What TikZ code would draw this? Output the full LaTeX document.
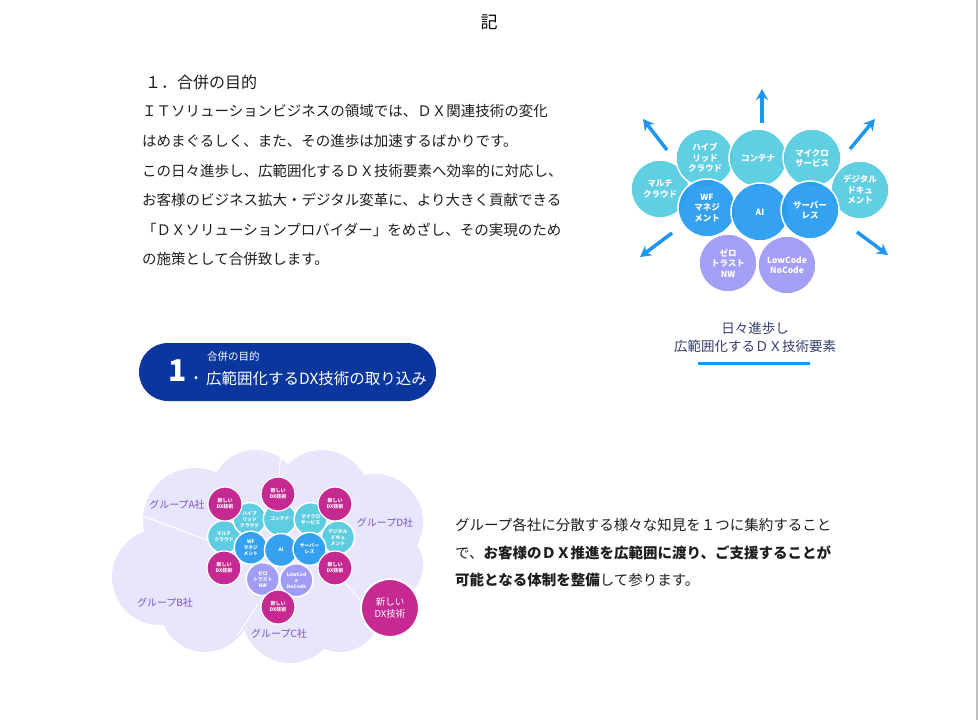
\documentclass[tikz,border=0pt]{standalone}
\usepackage{fontspec}
\setmainfont{Noto Sans CJK JP}
\usetikzlibrary{arrows.meta}

\definecolor{dxteal}{RGB}{84,204,224}
\definecolor{dxblue}{RGB}{38,156,240}
\definecolor{dxlav}{RGB}{156,152,244}
\definecolor{dxmag}{RGB}{198,42,146}
\definecolor{dxcloud}{RGB}{232,230,252}
\definecolor{dxgroup}{RGB}{122,82,190}
\definecolor{dxarrow}{RGB}{30,150,240}
\definecolor{dxnavy}{RGB}{10,54,158}
\definecolor{dxcap}{RGB}{52,62,112}
\definecolor{bodytext}{RGB}{30,30,30}

\tikzset{
  bodyline/.style={anchor=west, inner sep=0pt, text=bodytext, font=\fontsize{14.5}{16}\selectfont},
  elem/.style={circle, draw=white, line width=1.5pt, minimum size=58pt, inner sep=0pt, align=center,
    text=white, font=\bfseries\fontsize{8.5}{10.5}\selectfont, fill opacity=0.93, text opacity=1},
  tealc/.style={elem, fill=dxteal},
  bluec/.style={elem, fill=dxblue},
  lavc/.style={elem, fill=dxlav},
  newdx/.style={circle, draw=white, line width=1.2pt, fill=dxmag, minimum size=34pt, inner sep=0pt,
    align=center, text=white, font=\bfseries\fontsize{5}{6}\selectfont},
  bignew/.style={newdx, minimum size=58pt, line width=2pt, font=\fontsize{9.5}{12.5}\selectfont},
  grouplabel/.style={text=dxgroup, inner sep=0pt, font=\fontsize{10}{12}\selectfont},
  growarrow/.style={-{Stealth[length=11pt,width=12pt]}, line width=3.5pt, dxarrow},
  splitline/.style={white, line width=1pt}
}

\begin{document}
\begin{tikzpicture}[x=1pt,y=-1pt]
\fill[white] (0,0) rectangle (978,720);
\useasboundingbox (0,0) rectangle (978,720);
\draw[black!25, line width=1.2pt] (977,0) -- (977,720);

% heading and purpose text
\node[inner sep=0pt, font=\fontsize{17}{17}\selectfont] (ki) at (489,22) {記};
\node[bodyline, font=\fontsize{16}{18}\selectfont] (h1) at (145,82) {１．合併の目的};
\node[bodyline] (p1) at (142,111) {ＩＴソリューションビジネスの領域では、ＤＸ関連技術の変化};
\node[bodyline] (p2) at (142,141) {はめまぐるしく、また、その進歩は加速するばかりです。};
\node[bodyline] (p3) at (142,171) {この日々進歩し、広範囲化するＤＸ技術要素へ効率的に対応し、};
\node[bodyline] (p4) at (142,200) {お客様のビジネス拡大・デジタル変革に、より大きく貢献できる};
\node[bodyline] (p5) at (142,230) {「ＤＸソリューションプロバイダー」をめざし、その実現のため};
\node[bodyline] (p6) at (142,259) {の施策として合併致します。};

% growing technology elements
\begin{scope}[shift={(760,212)}]
\node[tealc] (multi) at (-100,-23) {マルチ\\クラウド};
\node[tealc] (hybrid) at (-55,-54) {ハイブ\\リッド\\クラウド};
\node[tealc] (cont) at (-2,-54) {コンテナ};
\node[tealc] (micro) at (52,-54) {マイクロ\\サービス};
\node[tealc] (docu) at (100,-22) {デジタル\\ドキュ\\メント};
\node[bluec] (wf) at (-53,-4) {WF\\マネジ\\メント};
\node[bluec] (ai) at (0,0) {AI};
\node[bluec] (serverless) at (50,-2) {サーバー\\レス};
\node[lavc] (zero) at (-32,51) {ゼロ\\トラスト\\NW};
\node[lavc] (lowcode) at (27,53) {LowCode\\NoCode};
\end{scope}

\coordinate (upS) at (762,123);  \coordinate (upE) at (762,89);
\coordinate (ulS) at (667,150);  \coordinate (ulE) at (643,119);
\coordinate (urS) at (850,149);  \coordinate (urE) at (875,119);
\coordinate (llS) at (672,233);  \coordinate (llE) at (640,257);
\coordinate (lrS) at (857,232);  \coordinate (lrE) at (888,255);
\draw[growarrow] (upS) -- (upE);
\draw[growarrow] (ulS) -- (ulE);
\draw[growarrow] (urS) -- (urE);
\draw[growarrow] (llS) -- (llE);
\draw[growarrow] (lrS) -- (lrE);

\node[inner sep=0pt, text=dxcap, align=center, font=\fontsize{13.5}{18}\selectfont] (cap) at (755,337)
  {日々進歩し\\広範囲化するＤＸ技術要素};
\draw[dxarrow, line width=3pt] (698,363) -- (810,363);

% banner
\node[fill=dxnavy, rounded corners=29pt, minimum width=297pt, minimum height=58pt, inner sep=0pt] (banner) at (287.5,372) {};
\node[text=white, inner sep=0pt, font=\bfseries\fontsize{30}{30}\selectfont] (bnum) at (178,371) {1};
\node[text=white, inner sep=0pt, font=\bfseries\fontsize{14}{14}\selectfont] (bdot) at (196,378) {.};
\node[text=white, anchor=west, inner sep=0pt, font=\fontsize{10.5}{11}\selectfont] (bsub) at (207,357) {合併の目的};
\node[text=white, anchor=west, inner sep=0pt, font=\fontsize{15.5}{16}\selectfont] (btitle) at (206,379) {広範囲化するDX技術の取り込み};

% group cloud
\fill[dxcloud] (195,520) circle (52) (255,494) circle (44) (322,497) circle (47)
  (375,522) circle (48) (385,565) circle (38) (160,577) circle (48) (205,607) circle (45)
  (290,615) circle (48) (340,612) circle (40) (280,555) circle (72) (240,560) circle (60);
\draw[splitline] (143,516) -- (210,541);
\draw[splitline] (281,452) -- (279,476);
\draw[splitline] (258,604) -- (237,636);
\draw[splitline] (345,583) -- (362,602);

\begin{scope}[shift={(281,550)}, scale=0.57, transform shape]
\node[tealc] (smulti) at (-100,-23) {マルチ\\クラウド};
\node[tealc] (shybrid) at (-55,-54) {ハイブ\\リッド\\クラウド};
\node[tealc] (scont) at (-2,-54) {コンテナ};
\node[tealc] (smicro) at (52,-54) {マイクロ\\サービス};
\node[tealc] (sdocu) at (100,-22) {デジタル\\ドキュ\\メント};
\node[bluec] (swf) at (-53,-4) {WF\\マネジ\\メント};
\node[bluec] (sai) at (0,0) {AI};
\node[bluec] (sserverless) at (50,-2) {サーバー\\レス};
\node[lavc] (szero) at (-32,51) {ゼロ\\トラスト\\NW};
\node[lavc] (slowcode) at (27,53) {LowCod\\e\\NoCode};
\end{scope}

\node[newdx] (newA) at (225,504) {新しい\\DX技術};
\node[newdx] (newT) at (278,494) {新しい\\DX技術};
\node[newdx] (newD) at (335,504) {新しい\\DX技術};
\node[newdx] (newB) at (224,568) {新しい\\DX技術};
\node[newdx] (newR) at (335,568) {新しい\\DX技術};
\node[newdx] (newC) at (278,607) {新しい\\DX技術};
\node[bignew] (newBig) at (390,608) {新しい\\DX技術};

\node[grouplabel] (grpA) at (177,505) {グループA社};
\node[grouplabel] (grpD) at (385,523) {グループD社};
\node[grouplabel] (grpB) at (165,603) {グループB社};
\node[grouplabel] (grpC) at (279,634) {グループC社};

% summary text
\node[bodyline] (s1) at (455,525) {グループ各社に分散する様々な知見を１つに集約すること};
\node[bodyline] (s2) at (455,553) {で、\textbf{お客様のＤＸ推進を広範囲に渡り、ご支援することが}};
\node[bodyline] (s3) at (455,580) {\textbf{可能となる体制を整備}して参ります。};
\end{tikzpicture}
\end{document}
